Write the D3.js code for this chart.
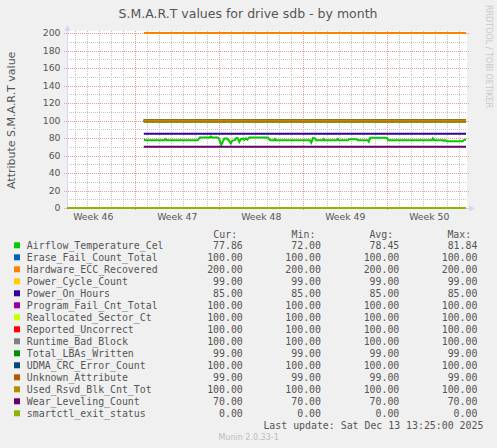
<!DOCTYPE html>
<html>
<head>
<meta charset="utf-8">
<script src="https://cdn.jsdelivr.net/npm/d3@7"></script>
<style>
  html, body { margin: 0; padding: 0; background: #f0f0f0; }
  svg { display: block; }
  text { font-family: "DejaVu Sans", sans-serif; fill: #555; }
  .mono { font-family: "DejaVu Sans Mono", monospace; }
</style>
</head>
<body>
<svg id="chart" width="497" height="448"></svg>
<script>
// ---------------- DATA ----------------
const title = "S.M.A.R.T values for drive sdb - by month";
const yLabel = "Attribute S.M.A.R.T value";
const lastUpdate = "Last update: Sat Dec 13 13:25:00 2025";
const muninVersion = "Munin 2.0.33-1";
const watermark = "RRDTOOL / TOBI OETIKER";

const timeDomain = ["2025-11-10T07:24:00Z", "2025-12-13T15:24:00Z"];
const weekStarts = ["2025-11-09", "2025-11-16", "2025-11-23", "2025-11-30", "2025-12-07"];
const weekLabels = ["Week 46", "Week 47", "Week 48", "Week 49", "Week 50"];
const yTickValues = [0, 20, 40, 60, 80, 100, 120, 140, 160, 180, 200];

const seriesNames = [
  "Airflow_Temperature_Cel", "Erase_Fail_Count_Total", "Hardware_ECC_Recovered",
  "Power_Cycle_Count", "Power_On_Hours", "Program_Fail_Cnt_Total",
  "Reallocated_Sector_Ct", "Reported_Uncorrect", "Runtime_Bad_Block",
  "Total_LBAs_Written", "UDMA_CRC_Error_Count", "Unknown_Attribute",
  "Used_Rsvd_Blk_Cnt_Tot", "Wear_Leveling_Count", "smartctl_exit_status"
];
const seriesColors = [
  "#00CC00", "#0066B3", "#FF8000", "#FFCC00", "#330099", "#990099",
  "#CCFF00", "#FF0000", "#808080", "#008F00", "#00487D", "#B35A00",
  "#B38F00", "#6B006B", "#8FB300"
];
const curValues = [77.86, 100, 200, 99, 85, 100, 100, 100, 100, 99, 100, 99, 100, 70, 0];
const minValues = [72.00, 100, 200, 99, 85, 100, 100, 100, 100, 99, 100, 99, 100, 70, 0];
const avgValues = [78.45, 100, 200, 99, 85, 100, 100, 100, 100, 99, 100, 99, 100, 70, 0];
const maxValues = [81.84, 100, 200, 99, 85, 100, 100, 100, 100, 99, 100, 99, 100, 70, 0];

// constant series: level held between first and last sample
const dataStart = "2025-11-16T17:00:00Z";
const dataEnd = "2025-12-13T13:25:00Z";
const smartctlStart = "2025-11-10T07:24:00Z";

// Airflow_Temperature_Cel samples
const airflowTimes = [
  "2025-11-16T17:00Z","2025-11-16T21:00Z","2025-11-18T11:00Z","2025-11-18T13:00Z","2025-11-18T15:00Z",
  "2025-11-21T05:00Z","2025-11-21T09:00Z","2025-11-22T05:00Z","2025-11-22T07:00Z","2025-11-22T09:00Z",
  "2025-11-22T21:00Z","2025-11-23T00:00Z","2025-11-23T04:00Z","2025-11-23T07:00Z","2025-11-23T10:00Z",
  "2025-11-23T15:00Z","2025-11-23T19:00Z","2025-11-23T23:00Z","2025-11-24T02:00Z","2025-11-24T07:00Z",
  "2025-11-24T10:00Z","2025-11-24T13:00Z","2025-11-24T16:00Z","2025-11-24T19:00Z","2025-11-24T23:00Z",
  "2025-11-25T02:00Z","2025-11-25T05:00Z","2025-11-25T08:00Z","2025-11-25T12:00Z","2025-11-27T01:00Z",
  "2025-11-27T06:00Z","2025-11-27T13:00Z","2025-11-27T15:00Z","2025-11-27T17:00Z","2025-11-30T13:00Z",
  "2025-11-30T16:00Z","2025-11-30T19:00Z","2025-11-30T23:00Z","2025-12-01T02:00Z","2025-12-01T15:00Z",
  "2025-12-01T17:00Z","2025-12-01T19:00Z","2025-12-02T19:00Z","2025-12-02T21:00Z","2025-12-02T23:00Z",
  "2025-12-03T17:00Z","2025-12-03T19:00Z","2025-12-04T11:00Z","2025-12-04T13:00Z","2025-12-05T09:00Z",
  "2025-12-05T11:00Z","2025-12-05T14:00Z","2025-12-06T23:00Z","2025-12-07T02:00Z","2025-12-10T17:00Z",
  "2025-12-10T19:00Z","2025-12-10T21:00Z","2025-12-11T15:00Z","2025-12-11T17:00Z","2025-12-11T20:00Z",
  "2025-12-11T23:00Z","2025-12-13T07:00Z","2025-12-13T10:00Z","2025-12-13T13:25Z"
];
const airflowValues = [
  77.9, 77.4, 77.4, 78.6, 77.4,
  77.4, 80.6, 80.6, 81.84, 80.6,
  80.6, 78.5, 72.0, 75.5, 79.5,
  79.5, 77.5, 73.8, 77.0, 77.5,
  80.0, 79.8, 75.5, 78.5, 79.5,
  77.8, 79.6, 78.2, 80.6, 80.6,
  77.5, 77.5, 79.0, 77.5, 77.3,
  74.6, 79.8, 79.6, 77.3, 77.3,
  78.7, 77.3, 77.3, 78.7, 77.3,
  77.3, 78.6, 78.6, 77.3, 77.3,
  75.8, 80.2, 80.2, 77.3, 77.3,
  79.3, 77.3, 77.3, 76.6, 77.5,
  76.2, 76.2, 77.86, 77.86
];

// ---------------- CHART ----------------
const svg = d3.select("#chart");
svg.append("rect").attr("width", 497).attr("height", 448).attr("fill", "#f0f0f0");

const x = d3.scaleUtc().domain(timeDomain.map(d => new Date(d))).range([67, 467]);
const y = d3.scaleLinear().domain([0, 200]).range([208, 33]);

// canvas
svg.append("rect").attr("x", 67).attr("y", 31).attr("width", 400).attr("height", 177).attr("fill", "#fff");

const grid = svg.append("g").attr("shape-rendering", "crispEdges");
const minorColor = "#c4c4c4", majorColor = "#eb9a9a";

// minor vertical (days)
const days = d3.utcDay.range(x.domain()[0], x.domain()[1]);
const sundays = d3.utcSunday.range(x.domain()[0], x.domain()[1]);
const sundaySet = new Set(sundays.map(d => +d));
grid.selectAll(".vmin").data(days.filter(d => !sundaySet.has(+d))).join("line")
  .attr("x1", d => Math.round(x(d)) + 0.5).attr("x2", d => Math.round(x(d)) + 0.5)
  .attr("y1", 31).attr("y2", 208)
  .attr("stroke", minorColor).attr("stroke-dasharray", "1,1");
// minor horizontal
const minorY = y.ticks(20).filter(v => v % 20 !== 0);
grid.selectAll(".hmin").data(minorY).join("line")
  .attr("x1", 67).attr("x2", 467)
  .attr("y1", d => Math.round(y(d)) + 0.5).attr("y2", d => Math.round(y(d)) + 0.5)
  .attr("stroke", minorColor).attr("stroke-dasharray", "1,1");
// major vertical (weeks)
grid.selectAll(".vmaj").data(sundays).join("line")
  .attr("x1", d => Math.round(x(d)) + 0.5).attr("x2", d => Math.round(x(d)) + 0.5)
  .attr("y1", 31).attr("y2", 211)
  .attr("stroke", majorColor).attr("stroke-dasharray", "1,1");
// major horizontal
grid.selectAll(".hmaj").data(yTickValues).join("line")
  .attr("x1", 64).attr("x2", 470)
  .attr("y1", d => Math.round(y(d)) + 0.5).attr("y2", d => Math.round(y(d)) + 0.5)
  .attr("stroke", majorColor).attr("stroke-dasharray", "1,1");

// axes
const axisColor = "#CFD6F8";
svg.append("line").attr("x1", 67.5).attr("x2", 67.5).attr("y1", 208).attr("y2", 28)
  .attr("stroke", axisColor).attr("shape-rendering", "crispEdges");
svg.append("line").attr("x1", 67).attr("x2", 470).attr("y1", 208.5).attr("y2", 208.5)
  .attr("stroke", axisColor).attr("shape-rendering", "crispEdges");
svg.append("path").attr("d", "M64.5,31 L67.5,25 L70.5,31 Z").attr("fill", axisColor);
svg.append("path").attr("d", "M469,205.5 L475,208.5 L469,211.5 Z").attr("fill", axisColor);

// y tick labels
svg.append("g").selectAll("text").data(yTickValues).join("text")
  .attr("x", 60.5).attr("y", d => y(d) + 3.4)
  .attr("text-anchor", "end").attr("font-size", "9.3px").text(d => d);

// x week labels at mid-week
svg.append("g").selectAll("text").data(weekStarts).join("text")
  .attr("x", d => x(d3.utcHour.offset(new Date(d + "T00:00:00Z"), 84)))
  .attr("y", 220.4).attr("text-anchor", "middle").attr("font-size", "9.3px")
  .text((d, i) => weekLabels[i]);

// series
const line = d3.line().x(d => x(d[0])).y(d => y(d[1]));
const seriesData = seriesNames.map((name, i) => {
  if (name === "Airflow_Temperature_Cel") {
    return airflowTimes.map((t, k) => [new Date(t), airflowValues[k]]);
  }
  const s = name === "smartctl_exit_status" ? smartctlStart : dataStart;
  return [[new Date(s), curValues[i]], [new Date(dataEnd), curValues[i]]];
});
svg.append("g").selectAll("path").data(seriesData).join("path")
  .attr("d", line).attr("fill", "none")
  .attr("stroke", (d, i) => seriesColors[i]).attr("stroke-width", 2)
  .attr("stroke-linejoin", "miter");

// title
svg.append("text").attr("x", 248).attr("y", 18.3).attr("text-anchor", "middle")
  .attr("font-size", "12.5px").text(title);
// y label
svg.append("text").attr("transform", "translate(14.6,120.3) rotate(-90)")
  .attr("text-anchor", "middle").attr("font-size", "11px").text(yLabel);
// watermark
svg.append("text").attr("transform", "translate(486,5) rotate(90)")
  .attr("font-size", "8px").style("fill", "#c8c8c8").text(watermark);

// legend
const fmt = d3.format(".2f");
const leg = svg.append("g").attr("class", "mono");
const headers = [["Cur:", 213.3], ["Min:", 291.6], ["Avg:", 369.4], ["Max:", 447.4]];
leg.selectAll(".hdr").data(headers).join("text")
  .attr("class", "mono").attr("x", d => d[1]).attr("y", 237.5)
  .attr("font-size", "9.9px").text(d => d[0]);
const rowY = i => 245.7 + i * 12;
leg.selectAll("rect").data(seriesNames).join("rect")
  .attr("x", 14).attr("y", (d, i) => rowY(i) - 3.4).attr("width", 6).attr("height", 6)
  .attr("fill", (d, i) => seriesColors[i]);
leg.selectAll(".name").data(seriesNames).join("text")
  .attr("class", "mono").attr("x", 26.8).attr("y", (d, i) => rowY(i) + 3.5)
  .attr("font-size", "9.9px").text(d => d);
const cols = [[curValues, 242.8], [minValues, 321], [avgValues, 399.3], [maxValues, 477.4]];
cols.forEach(([vals, xr]) => {
  leg.append("g").selectAll("text").data(vals).join("text")
    .attr("class", "mono").attr("x", xr).attr("y", (d, i) => rowY(i) + 3.5)
    .attr("text-anchor", "end").attr("font-size", "9.9px").text(d => fmt(d));
});
svg.append("text").attr("class", "mono").attr("x", 483.4).attr("y", 429.2)
  .attr("text-anchor", "end").attr("font-size", "9.9px").text(lastUpdate);
svg.append("text").attr("x", 248.6).attr("y", 440).attr("text-anchor", "middle")
  .attr("font-size", "8px").style("fill", "#bdbdbd").text(muninVersion);
</script>
</body>
</html>
